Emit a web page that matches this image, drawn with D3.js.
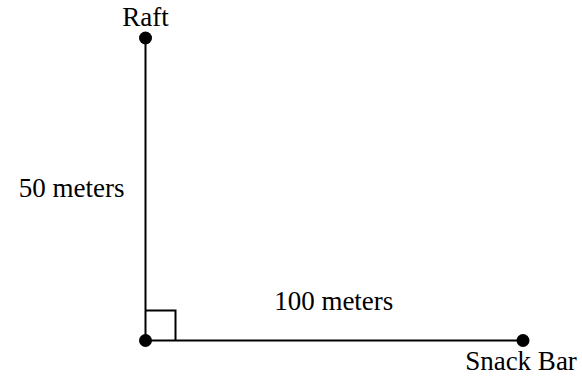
<!DOCTYPE html>
<html>
<head>
<meta charset="utf-8">
<script src="https://cdn.jsdelivr.net/npm/d3@7"></script>
<style>
  html, body { margin: 0; padding: 0; background: #fff; }
</style>
</head>
<body>
<div id="chart"></div>
<script>
// points in meters (x = along shore, y = out toward raft)
const pointNames = ['Raft', 'Corner', 'Snack Bar'];
const pointX = [0, 0, 100];
const pointY = [50, 0, 0];

// side labels
const sideLabels = ['50 meters', '100 meters'];
const sideLengths = [50, 100];

const width = 582, height = 376;
const fontFamily = '"Liberation Serif", "Times New Roman", serif';
const fontSize = 27;

const svg = d3.select('#chart').append('svg')
	.attr('width', width)
	.attr('height', height);

const x = d3.scaleLinear().domain([0, 100]).range([145.5, 523]);
const y = d3.scaleLinear().domain([0, 50]).range([340.5, 38]);

const pts = pointNames.map((name, i) => ({ name, x: pointX[i], y: pointY[i] }));

// the two legs
svg.append('path')
	.attr('d', d3.line().x((d) => x(d.x)).y((d) => y(d.y))(pts))
	.attr('fill', 'none')
	.attr('stroke', '#000')
	.attr('stroke-width', 2);

// right angle mark, 30px
const sqPx = 30;
const corner = pts[1];
svg.append('path')
	.attr('d', `M${x(corner.x)},${y(corner.y) - sqPx}H${x(corner.x) + sqPx}V${y(corner.y)}`)
	.attr('fill', 'none')
	.attr('stroke', '#000')
	.attr('stroke-width', 2);

// dots
svg.selectAll('circle')
	.data(pts)
	.join('circle')
	.attr('cx', (d) => x(d.x))
	.attr('cy', (d) => y(d.y))
	.attr('r', 6.5)
	.attr('fill', '#000');

function label(tx, ty, anchor, str) {
	svg.append('text')
		.attr('x', tx)
		.attr('y', ty)
		.attr('text-anchor', anchor)
		.attr('font-family', fontFamily)
		.attr('font-size', fontSize)
		.attr('fill', '#000')
		.text(str);
}

// point names
label(x(pts[0].x), y(pts[0].y) - 12, 'middle', pts[0].name);
label(x(pts[2].x) - 2, y(pts[2].y) + 29, 'middle', pts[2].name);

// side labels
label(x(0) - 21, y(sideLengths[0] / 2) + 8, 'end', sideLabels[0]);
label(x(sideLengths[1] / 2) - 0.5, y(0) - 31, 'middle', sideLabels[1]);
</script>
</body>
</html>
